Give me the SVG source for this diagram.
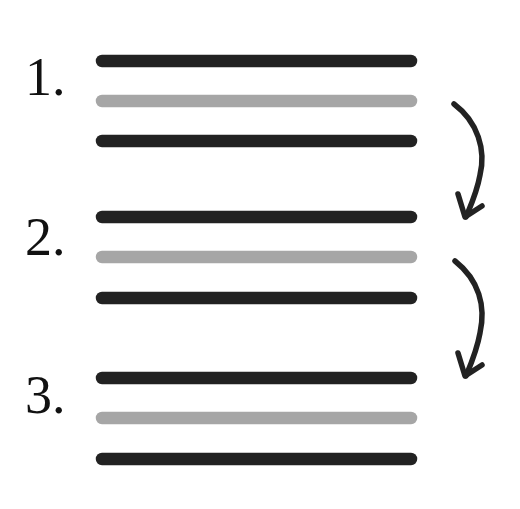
<svg xmlns="http://www.w3.org/2000/svg" width="520" height="509" viewBox="0 0 520 509">
<style>
.dk{stroke:#222;stroke-width:12.5;stroke-linecap:round}
.lt{stroke:#a6a6a6;stroke-width:12.5;stroke-linecap:round}
.num{font-family:"Liberation Serif","DejaVu Serif",serif;font-size:54px;fill:#111}
.arr{fill:none;stroke:#222;stroke-width:5.5;stroke-linecap:round;stroke-linejoin:round}
</style>
<rect width="520" height="509" fill="#fff"/>
<g id="item1">
<text class="num" x="25" y="95">1.</text>
<line class="dk" x1="102" y1="61" x2="411" y2="61"/>
<line class="lt" x1="102" y1="101" x2="411" y2="101"/>
<line class="dk" x1="102" y1="141" x2="411" y2="141"/>
</g>
<g id="item2">
<text class="num" x="25" y="255">2.</text>
<line class="dk" x1="102" y1="217" x2="411" y2="217"/>
<line class="lt" x1="102" y1="257" x2="411" y2="257"/>
<line class="dk" x1="102" y1="298" x2="411" y2="298"/>
</g>
<g id="item3">
<text class="num" x="25" y="413">3.</text>
<line class="dk" x1="102" y1="378" x2="411" y2="378"/>
<line class="lt" x1="102" y1="418" x2="411" y2="418"/>
<line class="dk" x1="102" y1="459" x2="411" y2="459"/>
</g>
<g id="connectors">
<path class="arr" d="M454 104 C478 122 486 150 480 175 C477 192 471 205 466 217"/>
<path class="arr" d="M458 194 L465 217 L482 206"/>
<path class="arr" d="M455 261 C479 280 486 306 480 333 C477 350 471 364 466 376"/>
<path class="arr" d="M458 353 L465 376 L482 365"/>
</g>
</svg>
